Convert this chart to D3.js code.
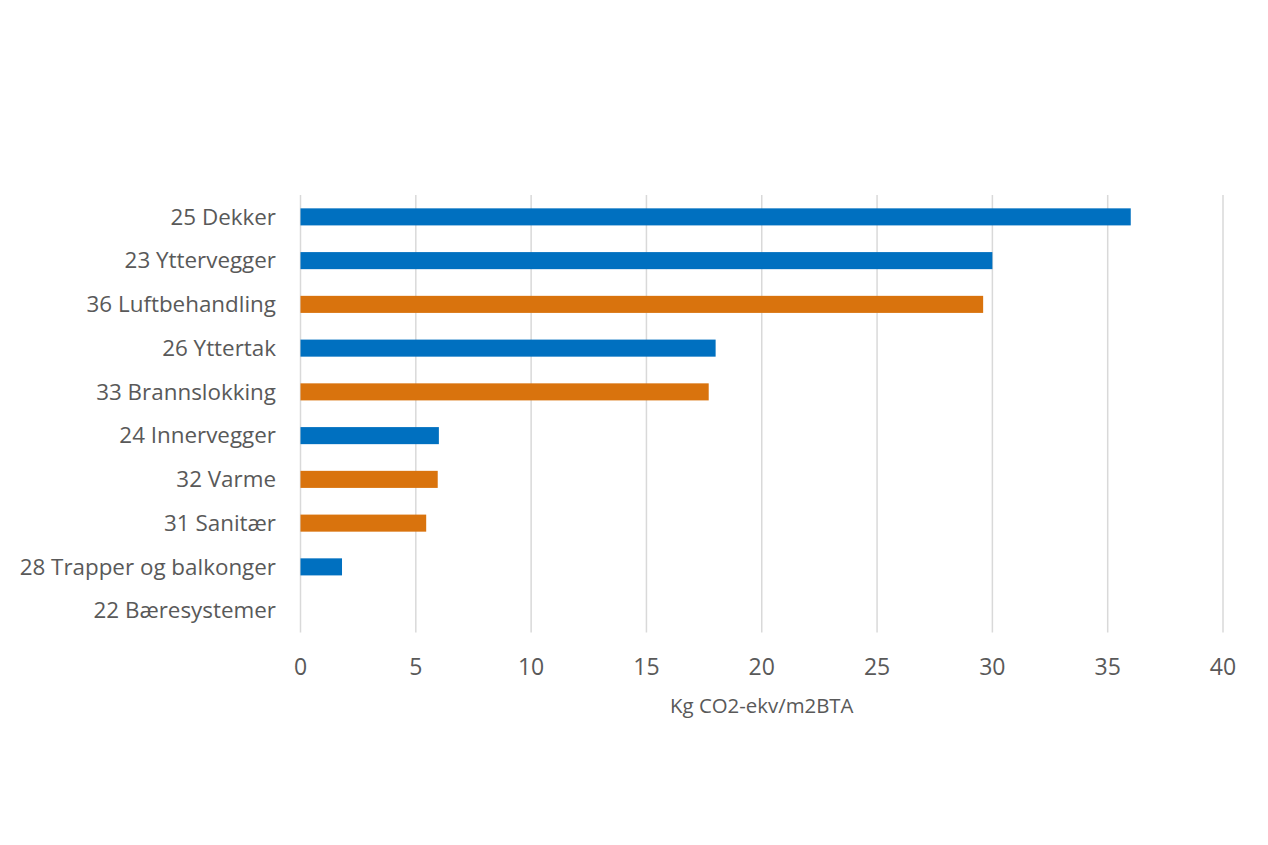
<!DOCTYPE html>
<html>
<head>
<meta charset="utf-8">
<script src="https://cdn.jsdelivr.net/npm/d3@7"></script>
<style>
  body { margin: 0; background: #fff; }
  text { font-family: "Open Sans", Lato, sans-serif; fill: #595959; }
</style>
</head>
<body>
<svg id="chart" width="1268" height="845"></svg>
<script>
var categories = ['25 Dekker', '23 Yttervegger', '36 Luftbehandling', '26 Yttertak',
  '33 Brannslokking', '24 Innervegger', '32 Varme', '31 Sanitær',
  '28 Trapper og balkonger', '22 Bæresystemer'];
var values = [36, 30, 29.6, 18, 17.7, 6, 5.95, 5.45, 1.8, 0];
var groups = ['bygg', 'bygg', 'vvs', 'bygg', 'vvs', 'bygg', 'vvs', 'vvs', 'bygg', 'bygg'];
var xTicks = [0, 5, 10, 15, 20, 25, 30, 35, 40];
var axisTitle = 'Kg CO2-ekv/m2BTA';

var colors = { bygg: '#0070c0', vvs: '#d9730d' };

var svg = d3.select('#chart');

var x = d3.scaleLinear().domain([0, 40]).range([300.5, 1223]);
var y = d3.scaleBand().domain(categories).range([195, 632.5])
  .paddingInner(0.61).paddingOuter(0.305);

// gridlines
svg.selectAll('.grid').data(xTicks)
  .enter().append('line')
  .attr('class', 'grid')
  .attr('x1', function(d) { return x(d); })
  .attr('x2', function(d) { return x(d); })
  .attr('y1', 195)
  .attr('y2', 632.5)
  .attr('stroke', '#d9d9d9')
  .attr('stroke-width', 1.5);

// bars
svg.selectAll('.bar').data(categories)
  .enter().append('rect')
  .attr('class', 'bar')
  .attr('x', x(0))
  .attr('y', function(d) { return y(d); })
  .attr('width', function(d, i) { return x(values[i]) - x(0); })
  .attr('height', y.bandwidth())
  .attr('fill', function(d, i) { return colors[groups[i]]; });

// category labels
svg.selectAll('.cat').data(categories)
  .enter().append('text')
  .attr('class', 'cat')
  .attr('x', 276)
  .attr('y', function(d) { return y(d) + y.bandwidth() / 2; })
  .attr('dy', '0.35em')
  .attr('text-anchor', 'end')
  .style('font-size', '22.4px')
  .text(function(d) { return d; });

// x tick labels
svg.selectAll('.xtick').data(xTicks)
  .enter().append('text')
  .attr('class', 'xtick')
  .attr('x', function(d) { return x(d); })
  .attr('y', 667)
  .attr('dy', '0.35em')
  .attr('text-anchor', 'middle')
  .style('font-size', '23px')
  .text(function(d) { return d; });

svg.append('text')
  .attr('x', (x(0) + x(40)) / 2)
  .attr('y', 706)
  .attr('dy', '0.35em')
  .attr('text-anchor', 'middle')
  .style('font-size', '20.4px')
  .text(axisTitle);
</script>
</body>
</html>
